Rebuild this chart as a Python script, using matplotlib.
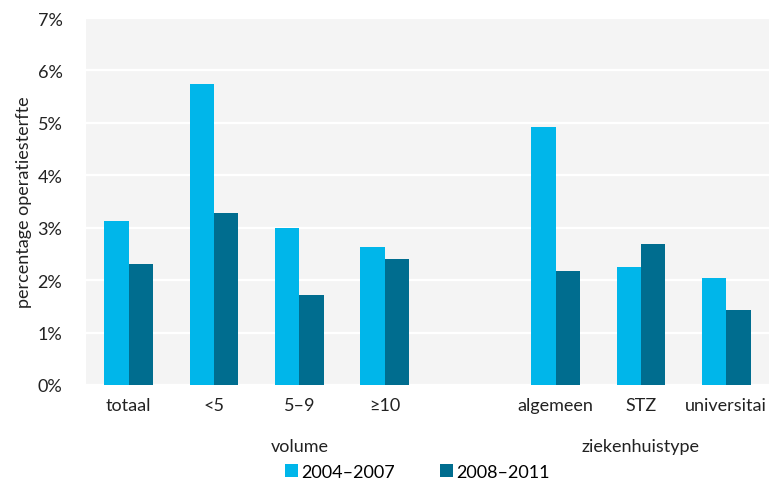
import matplotlib.pyplot as plt
import numpy as np

plt.rcParams['font.family'] = ['Lato', 'DejaVu Sans']

categories = ['totaal', '<5', '5–9', '≥10', 'algemeen', 'STZ', 'universitai']
slots = [0, 1, 2, 3, 5, 6, 7]
series_2004 = [3.12, 5.74, 2.99, 2.64, 4.92, 2.25, 2.04]
series_2008 = [2.30, 3.28, 1.72, 2.41, 2.18, 2.68, 1.44]
groups = [('volume', 2), ('ziekenhuistype', 6)]
yticks = [0, 1, 2, 3, 4, 5, 6, 7]

light = '#00b6ea'
dark = '#006d8f'

fig = plt.figure(figsize=(7.82, 4.81), dpi=100)
ax = fig.add_axes([86 / 782, 95 / 481, 683 / 782, 367 / 481])
ax.set_facecolor('#f4f4f4')

x = np.array(slots)
w = 0.286
ax.bar(x - w / 2, series_2004, w, color=light, label='2004–2007', zorder=3)
ax.bar(x + w / 2, series_2008, w, color=dark, label='2008–2011', zorder=3)

ax.set_xlim(-0.5, 7.5)
ax.set_ylim(0, 7)
ax.set_yticks(yticks)
ax.set_yticklabels([f'{t}%' for t in yticks], fontsize=13, color='#222222')
ax.set_xticks(x)
ax.set_xticklabels(categories, fontsize=13, color='#222222')
ax.tick_params(length=0, pad=9)
ax.tick_params(axis='y', pad=17)
ax.grid(axis='y', color='white', linewidth=1.6, zorder=1)
for s in ax.spines.values():
    s.set_visible(False)

ax.set_ylabel('percentage operatiesterfte', fontsize=13, color='#222222', labelpad=4)

for name, pos in groups:
    ax.annotate(name, xy=(pos, 0), xycoords=('data', 'axes fraction'),
                xytext=(0, -44), textcoords='offset points',
                ha='center', va='center', fontsize=13, color='#222222')

ax.legend(loc='upper left', bbox_to_anchor=(190 / 683, -0.19), ncol=2,
          frameon=False, fontsize=13, handlelength=0.7, handleheight=0.7,
          handletextpad=0.2, columnspacing=2.5, borderpad=0)

fig.savefig('out.png', dpi=100)
